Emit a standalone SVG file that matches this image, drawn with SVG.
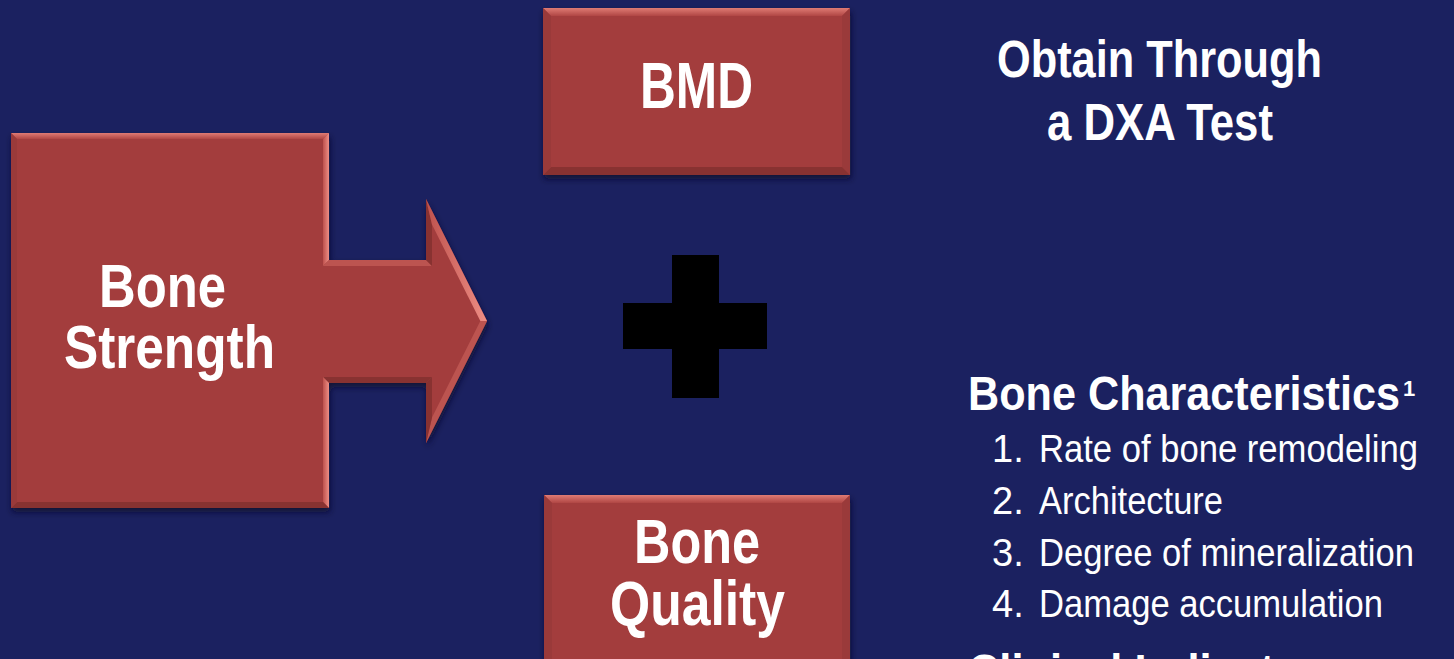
<svg xmlns="http://www.w3.org/2000/svg" width="1454" height="659" viewBox="0 0 1454 659">
  <defs>
    <filter id="shadow" x="-10%" y="-10%" width="125%" height="130%">
      <feDropShadow dx="1" dy="4" stdDeviation="3" flood-color="#0a0c2a" flood-opacity="0.8"/>
    </filter>
    <linearGradient id="topLight" x1="0" y1="0" x2="0" y2="1">
      <stop offset="0" stop-color="#DF7B74"/>
      <stop offset="1" stop-color="#B04644"/>
    </linearGradient>
    <linearGradient id="rightLight" x1="1" y1="0" x2="0" y2="0">
      <stop offset="0" stop-color="#EE8E85"/>
      <stop offset="1" stop-color="#BE514D"/>
    </linearGradient>
  </defs>
  <style>
    .fill { fill: #A33D3D; }
    .hi { fill: url(#rightLight); }
    .mid { fill: #BC5450; }
    .lt { fill: url(#topLight); }
    .dk { fill: #883231; }
    .sd { fill: #9A3A3A; }
    .bold { font-family: "Liberation Sans", Arial, sans-serif; font-weight: bold; fill: #FFFFFF; }
    .reg { font-family: "Liberation Sans", Arial, sans-serif; font-weight: normal; fill: #FFFFFF; }
  </style>

  <rect x="0" y="0" width="1454" height="659" fill="#1B2160"/>

  <g id="bone-strength">
    <g filter="url(#shadow)">
      <polygon class="fill" points="11,133 329,133 329,260 426,260 426,199 487,321 426,443 426,383 329,383 329,508 11,508"/>
    </g>
    <polygon class="lt" points="11,133 329,133 323,139 17,139"/>
    <polygon class="hi" points="329,133 329,260 323,266 323,139"/>
    <polygon class="mid" points="329,260 426,260 432,266 323,266"/>
    <polygon class="dk" points="426,260 426,199 432,224.5 432,266"/>
    <polygon class="hi" points="426,199 487,321 480.3,321 432,224.5"/>
    <polygon class="mid" points="487,321 426,443 432,417.5 480.3,321"/>
    <polygon class="dk" points="426,443 426,383 432,377 432,417.5"/>
    <polygon class="dk" points="426,383 329,383 323,377 432,377"/>
    <polygon class="hi" points="329,383 329,508 323,502 323,377"/>
    <polygon class="dk" points="329,508 11,508 17,502 323,502"/>
    <polygon class="sd" points="11,508 11,133 17,139 17,502"/>
    <text class="bold" x="99" y="307" font-size="62" textLength="127" lengthAdjust="spacingAndGlyphs">Bone</text>
    <text class="bold" x="64" y="368" font-size="62" textLength="211" lengthAdjust="spacingAndGlyphs">Strength</text>
  </g>

  <g id="bmd">
    <rect class="fill" x="543" y="8" width="307" height="167" filter="url(#shadow)"/>
    <polygon class="lt" points="543,8 850,8 842,16 551,16"/>
    <polygon class="sd" points="850,8 850,175 842,167 842,16"/>
    <polygon class="dk" points="850,175 543,175 551,167 842,167"/>
    <polygon class="sd" points="543,175 543,8 551,16 551,167"/>
    <text class="bold" x="640" y="108" font-size="64" textLength="113" lengthAdjust="spacingAndGlyphs">BMD</text>
  </g>

  <g id="plus">
    <rect x="623" y="303" width="144" height="46" fill="#000000"/>
    <rect x="672" y="255" width="47" height="143" fill="#000000"/>
  </g>

  <g id="bone-quality">
    <rect class="fill" x="544" y="495" width="306" height="200" filter="url(#shadow)"/>
    <polygon class="lt" points="544,495 850,495 842,503 552,503"/>
    <polygon class="sd" points="850,495 850,695 842,687 842,503"/>
    <polygon class="sd" points="544,695 544,495 552,503 552,687"/>
    <text class="bold" x="634" y="563" font-size="63" textLength="126" lengthAdjust="spacingAndGlyphs">Bone</text>
    <text class="bold" x="610" y="625" font-size="63" textLength="175" lengthAdjust="spacingAndGlyphs">Quality</text>
  </g>

  <g id="dxa-note">
    <text class="bold" x="997" y="77" font-size="51" textLength="325" lengthAdjust="spacingAndGlyphs">Obtain Through</text>
    <text class="bold" x="1047" y="140" font-size="51" textLength="226" lengthAdjust="spacingAndGlyphs">a DXA Test</text>
  </g>

  <g id="bone-characteristics">
    <text class="bold" x="968" y="410" font-size="49" textLength="432" lengthAdjust="spacingAndGlyphs">Bone Characteristics</text>
    <text class="bold" x="1403" y="396" font-size="22">1</text>
    <text class="reg" x="992" y="462" font-size="38">1.</text>
    <text class="reg" x="1039" y="462" font-size="38" textLength="379" lengthAdjust="spacingAndGlyphs">Rate of bone remodeling</text>
    <text class="reg" x="992" y="514" font-size="38">2.</text>
    <text class="reg" x="1039" y="514" font-size="38" textLength="184" lengthAdjust="spacingAndGlyphs">Architecture</text>
    <text class="reg" x="992" y="566" font-size="38">3.</text>
    <text class="reg" x="1039" y="566" font-size="38" textLength="375" lengthAdjust="spacingAndGlyphs">Degree of mineralization</text>
    <text class="reg" x="992" y="617" font-size="38">4.</text>
    <text class="reg" x="1039" y="617" font-size="38" textLength="344" lengthAdjust="spacingAndGlyphs">Damage accumulation</text>
  </g>

  <g id="clinical-indicators">
    <text class="bold" x="968" y="688" font-size="49" textLength="374" lengthAdjust="spacingAndGlyphs">Clinical Indicators</text>
  </g>

  <g id="connectors"></g>
</svg>
